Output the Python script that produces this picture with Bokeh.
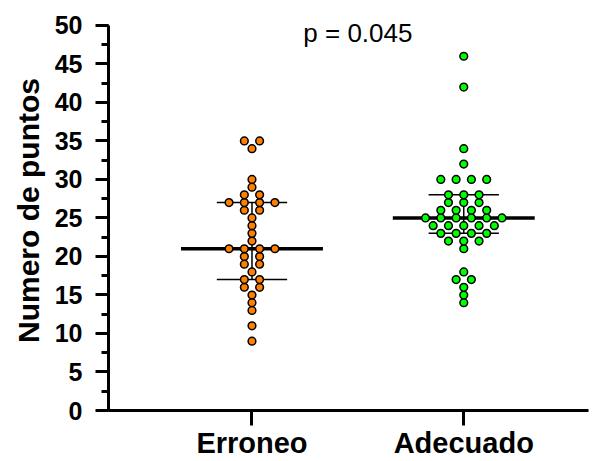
import numpy as np
from collections import Counter
from bokeh.plotting import figure
from bokeh.models import Label, FixedTicker, SingleIntervalTicker, Range1d
from bokeh.embed import file_html
from bokeh.resources import INLINE

# ---- data ----
categories = ["Erroneo", "Adecuado"]
erroneo = [35, 35, 34, 30, 29, 28, 28, 27, 27, 27, 27, 26, 26, 25, 24, 23, 22,
           21, 21, 21, 21, 20, 20, 19, 19, 18, 17, 17, 16, 16, 15, 14, 13, 11, 9]
adecuado = [46, 42, 34, 32, 30, 30, 30, 30, 28, 28, 28, 27, 27, 27, 26, 26, 26, 26,
            25, 25, 25, 25, 25, 25, 24, 24, 24, 24, 24, 23, 23, 23, 23, 22, 22, 22,
            21, 18, 17, 17, 16, 15, 14]
groups = [erroneo, adecuado]
colors = ["#FF8000", "#00FF00"]
p_text = "p = 0.045"
y_label = "Numero de puntos"
y_axis_bounds = (0, 50)

FONT = "Liberation Sans"

p = figure(width=592, height=461,
           x_range=Range1d(0.3225, 2.589), y_range=Range1d(0, 51.94),
           output_backend="svg", toolbar_location=None,
           min_border_left=108, min_border_top=10, min_border_right=4,
           min_border_bottom=50)
p.outline_line_color = None
p.xgrid.visible = False
p.ygrid.visible = False
p.background_fill_color = "white"
p.border_fill_color = "white"

step = 0.0722
med_half = 0.335
q_half = 0.166

for gi, vals in enumerate(groups):
    c = gi + 1
    arr = np.array(vals, dtype=float)
    med = np.median(arr)
    q1, q3 = np.percentile(arr, [25, 75], method="weibull")
    p.segment(x0=[c - med_half], x1=[c + med_half], y0=[med], y1=[med],
              line_color="black", line_width=3.5)
    p.segment(x0=[c - q_half, c - q_half], x1=[c + q_half, c + q_half],
              y0=[q1, q3], y1=[q1, q3], line_color="black", line_width=1.5)
    p.segment(x0=[c], x1=[c], y0=[q1], y1=[q3], line_color="black", line_width=1.5)

    xs, ys = [], []
    for v, k in sorted(Counter(vals).items()):
        for i in range(k):
            xs.append(c + (i - (k - 1) / 2) * step)
            ys.append(v)
    p.scatter(xs, ys, size=7.7, fill_color=colors[gi], line_color="black",
              line_width=1.5)

p.add_layout(Label(x=1.5, y=49, text=p_text, text_align="center",
                   text_baseline="middle", text_font_size="26px",
                   text_font=FONT, text_color="black"))

xa = p.xaxis[0]
xa.ticker = FixedTicker(ticks=[1, 2])
xa.major_label_overrides = {1: categories[0], 2: categories[1]}
xa.minor_tick_line_color = None
xa.major_label_text_font_size = "29px"
xa.major_label_standoff = 1

ya = p.yaxis[0]
ya.bounds = y_axis_bounds
ya.ticker = SingleIntervalTicker(interval=5, num_minor_ticks=2)
ya.minor_tick_in = 0
ya.minor_tick_out = 7
ya.minor_tick_line_width = 3
ya.minor_tick_line_color = "black"
ya.major_label_text_font_size = "25px"
ya.major_label_standoff = 13
ya.axis_label = y_label
ya.axis_label_text_font_size = "30px"
ya.axis_label_text_font_style = "bold"
ya.axis_label_text_font = FONT
ya.axis_label_text_color = "black"
ya.axis_label_standoff = 7

for ax in (xa, ya):
    ax.axis_line_width = 3
    ax.axis_line_color = "black"
    ax.major_tick_in = 0
    ax.major_tick_out = 13
    ax.major_tick_line_width = 3
    ax.major_tick_line_color = "black"
    ax.major_label_text_font = FONT
    ax.major_label_text_font_style = "bold"
    ax.major_label_text_color = "black"
xa.major_tick_out = 15

open("out.html", "w").write(file_html(p, INLINE))
